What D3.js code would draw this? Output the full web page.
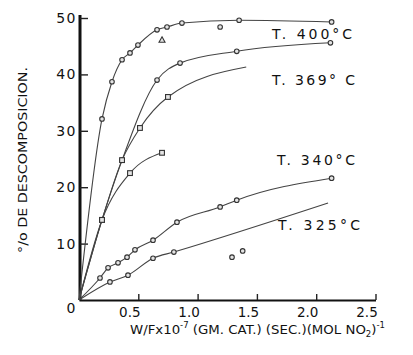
<!DOCTYPE html>
<html>
<head>
<meta charset="utf-8">
<script src="https://cdn.jsdelivr.net/npm/d3@7"></script>
<style>
  body { margin: 0; background: #fff; }
  svg { display: block; }
  text { font-family: "DejaVu Sans", "Liberation Sans", sans-serif; fill: #111; }
</style>
</head>
<body>
<svg id="chart" width="413" height="355"></svg>
<script>
// Axis ticks
const xTicks = [0.5, 1.0, 1.5, 2.0, 2.5];
const yTicks = [10, 20, 30, 40, 50];

// Conversion (%) against W/F x 10^-7 for each run
const w400 = [0.194, 0.278, 0.363, 0.43, 0.497, 0.658, 0.742, 0.868, 1.35, 2.13];
const c400 = [32.1, 38.7, 42.6, 43.8, 45.2, 47.9, 48.4, 49.1, 49.6, 49.3];
const w400loose = [0.70, 1.19];
const c400loose = [46.1, 48.4];

const w369a = [0.194, 0.363, 0.658, 0.852, 1.33, 2.12];
const c369a = [14.2, 24.8, 39.0, 42.0, 44.1, 45.6];

const w369b = [0.194, 0.363, 0.514, 0.75, 1.41];
const c369b = [14.2, 24.8, 30.5, 36.0, 41.3];

const w369c = [0.194, 0.43, 0.70];
const c369c = [14.2, 22.5, 26.1];

const w340 = [0.177, 0.245, 0.329, 0.405, 0.472, 0.624, 0.826, 1.19, 1.33, 2.13];
const c340 = [3.9, 5.7, 6.6, 7.6, 8.9, 10.6, 13.8, 16.5, 17.7, 21.6];

const w325 = [0.261, 0.413, 0.624, 0.80, 2.10];
const c325 = [3.2, 4.4, 7.4, 8.5, 17.2];
const w325loose = [1.29, 1.38];
const c325loose = [7.6, 8.7];

const runLabels = ["T. 400°C", "T. 369° C", "T. 340°C", "T. 325°C"];

const svg = d3.select("#chart");
const x = d3.scaleLinear().domain([0, 2.5]).range([79, 375.5]);
const y = d3.scaleLinear().domain([0, 50]).range([300, 18]);

// Axes: ticks point into the plot
const yAxis = svg.append("g").attr("transform", "translate(80,0)")
  .call(d3.axisLeft(y).tickValues(yTicks).tickSizeInner(-8).tickSizeOuter(0).tickPadding(3));
yAxis.select(".domain").attr("stroke", "#111").attr("stroke-width", 3)
  .attr("d", `M0,${y(0)}V${y(50) - 3}`);
yAxis.selectAll(".tick line").attr("stroke", "#222").attr("stroke-width", 1.4);
yAxis.selectAll(".tick text").attr("font-size", 14).attr("letter-spacing", 1.5)
  .attr("font-family", "DejaVu Sans").attr("fill", "#111");

const xAxis = svg.append("g").attr("transform", `translate(0,${y(0)})`)
  .call(d3.axisBottom(x).tickValues(xTicks).tickSizeInner(-6).tickSizeOuter(0)
    .tickFormat(d3.format(".1f")));
xAxis.select(".domain").attr("stroke", "#111").attr("stroke-width", 2);
xAxis.selectAll(".tick line").attr("stroke", "#222").attr("stroke-width", 1.4);
xAxis.selectAll(".tick text").attr("font-size", 13.5).attr("y", 17).attr("dy", 0)
  .attr("dx", -9).attr("font-family", "DejaVu Sans").attr("fill", "#111");

svg.append("text").attr("x", 71).attr("y", 313).attr("text-anchor", "middle")
  .attr("font-size", 14).text("0");

// Curves
const line = d3.line().x(d => x(d[0])).y(d => y(d[1])).curve(d3.curveMonotoneX);
const zip = (a, b) => a.map((v, i) => [v, b[i]]);

const runs = [
  { pts: zip(w400, c400), marked: w400.length, shape: "circle" },
  { pts: zip(w369a, c369a), marked: w369a.length, shape: "circle" },
  { pts: zip(w369b, c369b), marked: w369b.length - 1, shape: "square" },
  { pts: zip(w369c, c369c), marked: w369c.length, shape: "square" },
  { pts: zip(w340, c340), marked: w340.length, shape: "circle" },
  { pts: zip(w325, c325), marked: w325.length - 1, shape: "circle" }
];

runs.forEach(r => {
  svg.append("path").attr("d", line([[0, 0], ...r.pts]))
    .attr("fill", "none").attr("stroke", "#444").attr("stroke-width", 1.1);
});

function marker(g, d, shape) {
  const cx = x(d[0]), cy = y(d[1]);
  if (shape === "square") {
    g.append("rect").attr("x", cx - 2.4).attr("y", cy - 2.4)
      .attr("width", 4.8).attr("height", 4.8)
      .attr("fill", "#e4e4e4").attr("stroke", "#333").attr("stroke-width", 1.1);
  } else if (shape === "triangle") {
    g.append("path").attr("d", `M${cx},${cy - 3.2}L${cx + 3},${cy + 2.2}L${cx - 3},${cy + 2.2}Z`)
      .attr("fill", "#e4e4e4").attr("stroke", "#333").attr("stroke-width", 1.1);
  } else {
    g.append("circle").attr("cx", cx).attr("cy", cy).attr("r", 2.3)
      .attr("fill", "#e4e4e4").attr("stroke", "#333").attr("stroke-width", 1.1);
  }
}

const mg = svg.append("g");
runs.forEach(r => r.pts.slice(0, r.marked).forEach(d => marker(mg, d, r.shape)));
zip(w400loose, c400loose).forEach((d, i) => marker(mg, d, i === 0 ? "triangle" : "circle"));
zip(w325loose, c325loose).forEach(d => marker(mg, d, "circle"));

// Run labels
const labelPos = [[272, 39, 80], [272, 85, 83], [277, 165, 78], [278, 230, 82]];
runLabels.forEach((t, i) => {
  svg.append("text").attr("x", labelPos[i][0]).attr("y", labelPos[i][1])
    .attr("font-size", 14).attr("textLength", labelPos[i][2])
    .attr("lengthAdjust", "spacing").text(t);
});

// Axis titles
const xt = svg.append("text").attr("x", 130).attr("y", 334).attr("font-size", 12.5)
  .attr("textLength", 255).attr("lengthAdjust", "spacingAndGlyphs");
xt.append("tspan").text("W/Fx10");
xt.append("tspan").attr("dy", -6).attr("font-size", 8).text("-7");
xt.append("tspan").attr("dy", 6).text(" (GM. CAT.) (SEC.)(MOL NO");
xt.append("tspan").attr("dy", 3).attr("font-size", 8).text("2");
xt.append("tspan").attr("dy", -3).text(")");
xt.append("tspan").attr("dy", -6).attr("font-size", 8).text("-1");

svg.append("text").attr("transform", "translate(27,160) rotate(-90)")
  .attr("text-anchor", "middle").attr("font-size", 13)
  .attr("textLength", 186).attr("lengthAdjust", "spacingAndGlyphs")
  .text("°/o DE DESCOMPOSICION.");
</script>
</body>
</html>
